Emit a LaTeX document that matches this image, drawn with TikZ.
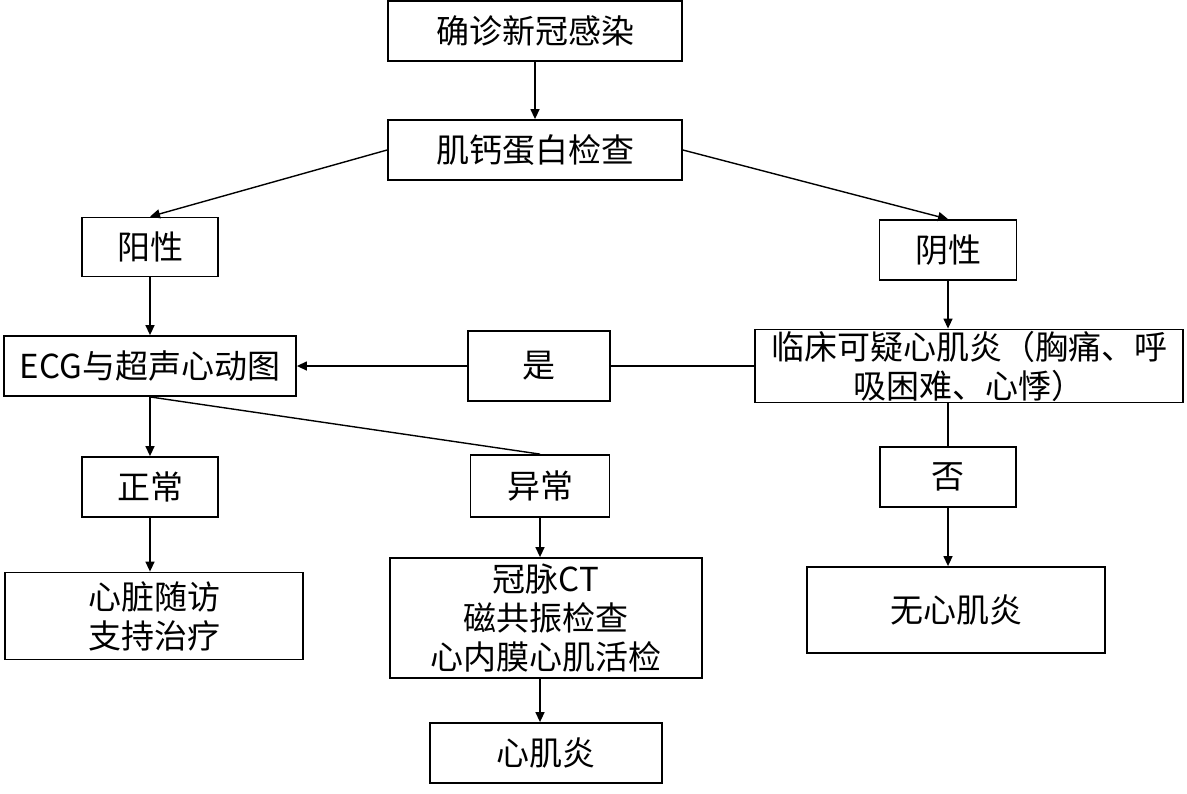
\documentclass[tikz,border=0pt]{standalone}
\usepackage{fontspec}
\setmainfont{Noto Sans CJK SC}
\usepackage{tikz}
\usetikzlibrary{arrows.meta, positioning}

\begin{document}
\begin{tikzpicture}[x=0.5pt, y=-0.5pt,
  box/.style={draw, line width=0.9pt, rectangle, inner sep=0pt, align=center, font=\fontsize{16.5}{19.5}\selectfont},
  arr/.style={-{Triangle[length=5pt, width=4.5pt]}, line width=0.7pt},
  ln/.style={line width=0.7pt}]
  \useasboundingbox (0,0) rectangle (1187,793);

  % 第一行
  \node[box, minimum width=147pt, minimum height=30pt] (diag) at (535,31) {确诊新冠感染};
  \node[box, minimum width=147pt, minimum height=30pt] (trop) at (535,150) {肌钙蛋白检查};

  % 阳性 / 阴性
  \node[box, minimum width=68pt, minimum height=29.5pt] (pos) at (150,247) {阳性};
  \node[box, minimum width=68.5pt, minimum height=30pt] (neg) at (948,250) {阴性};

  \node[box, minimum width=146pt, minimum height=30pt] (ecg) at (150,366) {ECG与超声心动图};
  \node[box, minimum width=71pt, minimum height=35pt] (yes) at (539,366) {是};
  \node[box, minimum width=214pt, minimum height=36.5pt] (clin) at (969,366) {临床可疑心肌炎（胸痛、呼\\吸困难、心悸）};

  \node[box, minimum width=68pt, minimum height=30pt] (normal) at (150,487) {正常};
  \node[box, minimum width=69.5pt, minimum height=31pt] (abn) at (540,486) {异常};
  \node[box, minimum width=68pt, minimum height=30pt] (no) at (948,477) {否};

  \node[box, minimum width=149pt, minimum height=43.5pt] (follow) at (154,616) {心脏随访\\支持治疗};
  \node[box, minimum width=156pt, minimum height=60pt] (tests) at (546,618) {冠脉CT\\磁共振检查\\心内膜心肌活检};
  \node[box, minimum width=149pt, minimum height=43pt] (nomyo) at (956,610) {无心肌炎};
  \node[box, minimum width=116pt, minimum height=30pt] (myo) at (546,753) {心肌炎};

  % 连线
  \draw[arr] (diag) -- (trop);
  \draw[arr] (trop.west) -- (pos.north);
  \draw[arr] (trop.east) -- (neg.north);
  \draw[arr] (pos) -- (ecg);
  \draw[arr] (neg.south) -- (neg.south |- clin.north);
  \draw[ln] (clin.west) -- (yes.east);
  \draw[arr] (yes.west) -- (ecg.east);
  \draw[ln] (no.north |- clin.south) -- (no.north);
  \draw[arr] (no.south) -- (no.south |- nomyo.north);
  \draw[arr] (ecg.south) -- (normal.north);
  \draw[ln] (ecg.south) -- (abn.north);
  \draw[arr] (normal.south) -- (normal.south |- follow.north);
  \draw[arr] (abn.south) -- (abn.south |- tests.north);
  \draw[arr] (abn.south |- tests.south) -- (abn.south |- myo.north);
\end{tikzpicture}
\end{document}
